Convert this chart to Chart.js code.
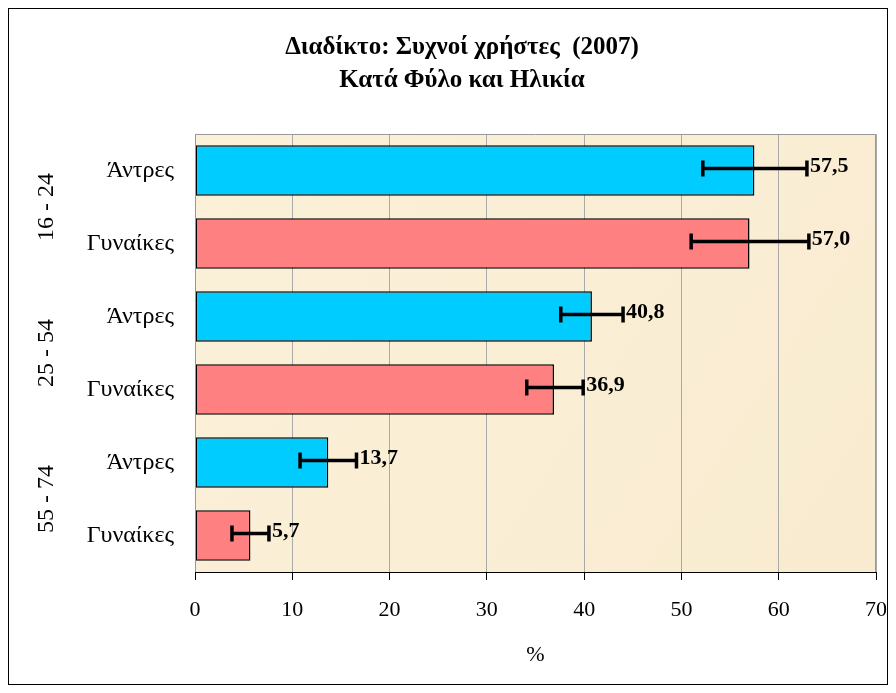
<!DOCTYPE html>
<html>
<head>
<meta charset="utf-8">
<script src="https://cdn.jsdelivr.net/npm/chart.js@4"></script>
<style>
  html, body { margin: 0; padding: 0; background: #fff; }
  #wrap { width: 896px; height: 693px; position: relative; }
</style>
</head>
<body>
<div id="wrap"><canvas id="chart" width="896" height="693"></canvas></div>
<script>
  // Data
  const categories = ["Άντρες", "Γυναίκες", "Άντρες", "Γυναίκες", "Άντρες", "Γυναίκες"];
  const ageGroups = ["16 - 24", "25 - 54", "55 - 74"];
  const values = [57.5, 57.0, 40.8, 36.9, 13.7, 5.7];
  const errLow = [52.2, 51.0, 37.6, 34.1, 10.8, 3.8];
  const errHigh = [62.9, 63.1, 44.0, 39.9, 16.6, 7.6];
  const xTicks = [0, 10, 20, 30, 40, 50, 60, 70];

  const MEN_COLOR = "#00CCFF";
  const WOMEN_COLOR = "#FF8080";
  const SERIF = "'Liberation Serif', 'Times New Roman', serif";

  const framePlugin = {
    id: "frame",
    beforeDraw(chart) {
      const {ctx, chartArea: a} = chart;
      ctx.save();
      ctx.fillStyle = "#ffffff";
      ctx.fillRect(0, 0, chart.width, chart.height);
      ctx.strokeStyle = "#000";
      ctx.lineWidth = 1;
      ctx.strokeRect(8.5, 8.5, chart.width - 17, chart.height - 17);
      // beige plot background
      const g = ctx.createLinearGradient(a.left, a.top, a.right, a.bottom);
      g.addColorStop(0, "#FBF0D8");
      g.addColorStop(0.5, "#FAEED5");
      g.addColorStop(1, "#F8EBCF");
      ctx.fillStyle = g;
      ctx.fillRect(a.left, a.top, a.right - a.left, a.bottom - a.top);
      ctx.restore();
    },
    afterDraw(chart) {
      const {ctx, chartArea: a} = chart;
      ctx.save();
      // title
      ctx.fillStyle = "#000";
      ctx.textAlign = "center";
      ctx.textBaseline = "middle";
      ctx.font = `bold 25px ${SERIF}`;
      ctx.fillText("Διαδίκτο: Συχνοί χρήστες  (2007)", 462, 48);
      ctx.fillText("Κατά Φύλο και Ηλικία", 462, 81);
      // plot border
      ctx.strokeStyle = "#999";
      ctx.lineWidth = 1;
      ctx.beginPath();
      ctx.moveTo(a.left + 0.5, a.bottom);
      ctx.lineTo(a.left + 0.5, a.top + 0.5);
      ctx.lineTo(a.right - 0.5, a.top + 0.5);
      ctx.lineTo(a.right - 0.5, a.bottom);
      ctx.stroke();
      // age group labels
      const y = chart.scales.y;
      ctx.font = `24px ${SERIF}`;
      ageGroups.forEach((label, i) => {
        const cy = (y.getPixelForValue(i * 2) + y.getPixelForValue(i * 2 + 1)) / 2;
        ctx.save();
        ctx.translate(47, cy);
        ctx.rotate(-Math.PI / 2);
        ctx.fillText(label, 0, 0);
        ctx.restore();
      });
      ctx.restore();
    },
  };

  const errorBarPlugin = {
    id: "errorBars",
    afterDatasetsDraw(chart) {
      const {ctx} = chart;
      const x = chart.scales.x;
      const meta = chart.getDatasetMeta(0);
      ctx.save();
      ctx.strokeStyle = "#000";
      ctx.fillStyle = "#000";
      ctx.lineWidth = 3.5;
      ctx.font = `bold 22px ${SERIF}`;
      ctx.textBaseline = "middle";
      ctx.textAlign = "left";
      meta.data.forEach((bar, i) => {
        const cy = bar.y - 2;
        const x0 = x.getPixelForValue(errLow[i]);
        const x1 = x.getPixelForValue(errHigh[i]);
        ctx.beginPath();
        ctx.moveTo(x0, cy);
        ctx.lineTo(x1, cy);
        ctx.moveTo(x0, cy - 8);
        ctx.lineTo(x0, cy + 8);
        ctx.moveTo(x1, cy - 8);
        ctx.lineTo(x1, cy + 8);
        ctx.stroke();
        const text = values[i].toFixed(1).replace(".", ",");
        ctx.fillText(text, x1 + 3, cy - 2);
      });
      ctx.restore();
    },
  };

  new Chart(document.getElementById("chart"), {
    type: "bar",
    data: {
      labels: categories,
      datasets: [{
        data: values,
        backgroundColor: categories.map((c, i) => (i % 2 === 0 ? MEN_COLOR : WOMEN_COLOR)),
        borderColor: "#000",
        borderWidth: 1.5,
        borderSkipped: false,
        categoryPercentage: 1,
        barPercentage: 0.69,
      }],
    },
    options: {
      indexAxis: "y",
      responsive: false,
      animation: false,
      layout: {padding: {left: 0, right: 20, top: 134, bottom: 21}},
      plugins: {
        legend: {display: false},
        tooltip: {enabled: false},
      },
      scales: {
        x: {
          min: 0,
          max: 70,
          afterBuildTicks(axis) {
            axis.ticks = xTicks.map((v) => ({value: v}));
          },
          afterFit(axis) {
            axis.height = 100;
            axis.paddingRight = 0;
            axis.paddingLeft = 0;
          },
          grid: {
            color: "#aaa",
            tickColor: "#000",
            tickLength: 8,
            drawOnChartArea: true,
          },
          border: {display: true, color: "#000", width: 1},
          ticks: {
            color: "#000",
            font: {family: SERIF, size: 22},
            padding: 17,
          },
          title: {
            display: true,
            text: "%",
            color: "#000",
            font: {family: SERIF, size: 22},
            padding: {top: 0, bottom: 4},
          },
        },
        y: {
          afterFit(axis) {
            axis.width = 195;
          },
          grid: {display: false},
          border: {display: false},
          ticks: {
            color: "#000",
            font: {family: SERIF, size: 24},
            padding: 13,
          },
        },
      },
    },
    plugins: [framePlugin, errorBarPlugin],
  });
</script>
</body>
</html>
